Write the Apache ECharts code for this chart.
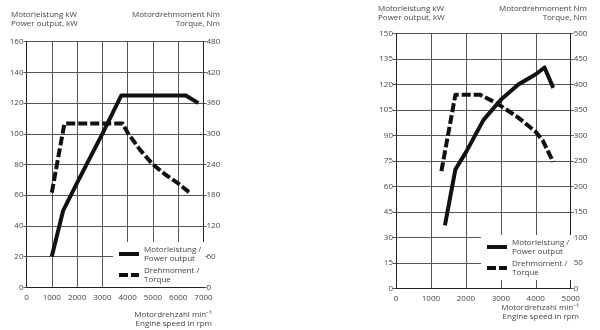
<!DOCTYPE html>
<html>
<head>
<meta charset="utf-8">
<script src="https://cdn.jsdelivr.net/npm/echarts@6/dist/echarts.min.js"></script>
<style>
  html, body { margin: 0; padding: 0; background: #fff; }
  #chart { width: 600px; height: 330px; }
</style>
</head>
<body>
<div id="chart"></div>
<script>
// left engine: rpm / kW / Nm
var leftPowerRpm = [1000, 1450, 2000, 2500, 3000, 3750, 6300, 6800];
var leftPower    = [20,   50,   68,   84,   100,  125,  125,  120];
var leftTorqueRpm = [1000, 1500, 3800, 4000, 4500, 5000, 5500, 6000, 6500];
var leftTorque    = [185,  320,  320,  302,  268,  240,  220,  203,  183];

// right engine
var rightPowerRpm = [1400, 1700, 2000, 2500, 3000, 3500, 4000, 4250, 4500];
var rightPower    = [37,   70,   80,   99,   111,  120,  126,  130,  118];
var rightTorqueRpm = [1300, 1700, 2400, 2800, 3000, 3500, 4000, 4200, 4500];
var rightTorque    = [230,  380,  380,  366,  358,  335,  307,  290,  248];

var powerName = 'Motorleistung /\nPower output';
var torqueName = 'Drehmoment /\nTorque';

function pairs(xs, ys) {
    var out = [];
    for (var i = 0; i < xs.length; i++) out.push([xs[i], ys[i]]);
    return out;
}

var txt = '#444';
var font = '"Liberation Sans Narrow", "Open Sans", sans-serif';
var fs = 8;
var gridCol = '#555';
var plain = function (v) { return String(v); };

var powerLine = {color: '#111', width: 4, cap: 'butt', join: 'round'};
var torqueLine = {color: '#111', width: 4, type: [9, 3], cap: 'butt', join: 'round'};

function xAx(gi, max) {
    return {
        type: 'value', gridIndex: gi, min: 0, max: max, interval: 1000,
        axisLine: {show: true, lineStyle: {color: '#222', width: 1}},
        axisTick: {show: false},
        axisLabel: {color: txt, fontSize: fs, fontFamily: font, margin: 6, formatter: plain},
        splitLine: {show: true, lineStyle: {color: gridCol, width: 1}}
    };
}
function yAx(gi, max, step, pos, split) {
    return {
        type: 'value', gridIndex: gi, min: 0, max: max, interval: step, position: pos,
        axisLine: {show: true, lineStyle: {color: '#222', width: 1}},
        axisTick: {show: true, length: 3, lineStyle: {color: gridCol}},
        axisLabel: {color: txt, fontSize: fs, fontFamily: font, margin: 3, formatter: plain},
        splitLine: {show: split, lineStyle: {color: gridCol, width: 1}}
    };
}
function legend(left, top) {
    return {
        left: left, top: top, orient: 'vertical',
        data: [
            {name: powerName, lineStyle: powerLine},
            {name: torqueName, lineStyle: torqueLine}
        ],
        itemWidth: 20, itemHeight: 8, itemGap: 3,
        padding: [3, 4], backgroundColor: '#fff',
        selectedMode: false,
        itemStyle: {opacity: 0},
        textStyle: {color: txt, fontSize: fs, fontFamily: font, lineHeight: 9}
    };
}
function text(x, y, s, align) {
    return {
        type: 'text', x: x, y: y,
        style: {text: s, textAlign: align || 'left', textVerticalAlign: 'middle',
                fill: txt, font: fs + 'px ' + font}
    };
}

var chart = echarts.init(document.getElementById('chart'));
chart.setOption({
    animation: false,
    backgroundColor: '#fff',
    grid: [
        {left: 26.5, top: 41.7, width: 177, height: 245.6},
        {left: 396, top: 33.5, width: 174.7, height: 254.8}
    ],
    xAxis: [xAx(0, 7000), xAx(1, 5000)],
    yAxis: [
        yAx(0, 160, 20, 'left', true),
        yAx(0, 480, 60, 'right', false),
        yAx(1, 150, 15, 'left', true),
        yAx(1, 500, 50, 'right', false)
    ],
    legend: [legend(113, 242), legend(481, 235)],
    graphic: [
        text(11, 15, 'Motorleistung kW'),
        text(11, 24, 'Power output, kW'),
        text(220, 15, 'Motordrehmoment Nm', 'right'),
        text(220, 24, 'Torque, Nm', 'right'),
        text(212, 315, 'Motordrehzahl min\u207B\u00B9', 'right'),
        text(212, 324, 'Engine speed in rpm', 'right'),
        text(378, 9, 'Motorleistung kW'),
        text(378, 18, 'Power output, kW'),
        text(587, 9, 'Motordrehmoment Nm', 'right'),
        text(587, 18, 'Torque, Nm', 'right'),
        text(579, 308, 'Motordrehzahl min\u207B\u00B9', 'right'),
        text(579, 317, 'Engine speed in rpm', 'right')
    ],
    series: [
        {name: powerName, type: 'line', xAxisIndex: 0, yAxisIndex: 0, symbol: 'none',
         itemStyle: {color: '#111'}, lineStyle: powerLine, data: pairs(leftPowerRpm, leftPower), z: 3},
        {name: torqueName, type: 'line', xAxisIndex: 0, yAxisIndex: 1, symbol: 'none',
         itemStyle: {color: '#111'}, lineStyle: torqueLine, data: pairs(leftTorqueRpm, leftTorque), z: 3},
        {name: powerName, type: 'line', xAxisIndex: 1, yAxisIndex: 2, symbol: 'none',
         itemStyle: {color: '#111'}, lineStyle: powerLine, data: pairs(rightPowerRpm, rightPower), z: 3},
        {name: torqueName, type: 'line', xAxisIndex: 1, yAxisIndex: 3, symbol: 'none',
         itemStyle: {color: '#111'}, lineStyle: torqueLine, data: pairs(rightTorqueRpm, rightTorque), z: 3}
    ]
});
</script>
</body>
</html>
